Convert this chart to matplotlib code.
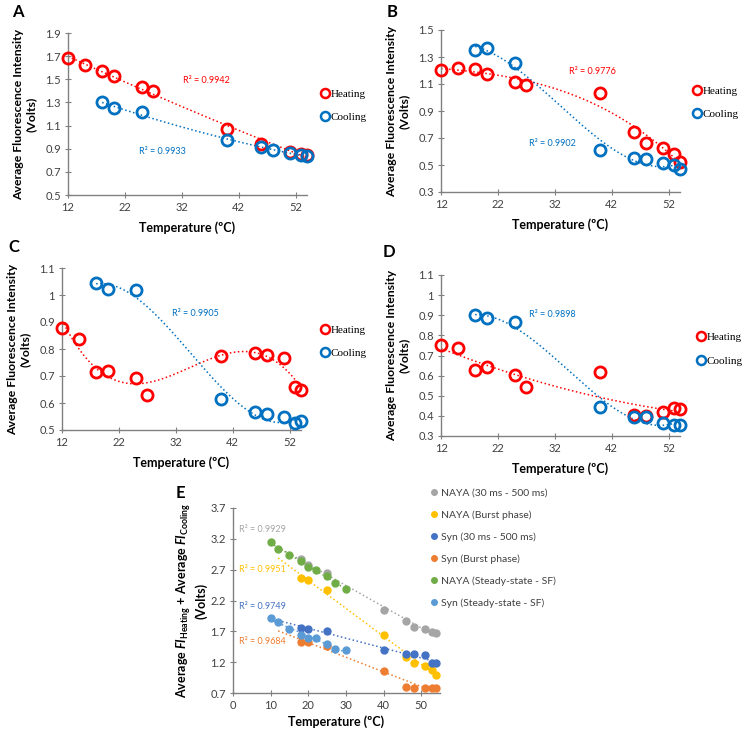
import numpy as np
import matplotlib
matplotlib.use('Agg')
import matplotlib.pyplot as plt
from matplotlib.lines import Line2D
from matplotlib.ticker import FuncFormatter

plt.rcParams['font.family'] = ['Lato', 'DejaVu Sans']
plt.rcParams['mathtext.fontset'] = 'custom'
plt.rcParams['mathtext.it'] = 'Lato:style=italic:weight=bold'
plt.rcParams['mathtext.rm'] = 'Lato:weight=bold'

# ---- data (panels A-D) ----
temp_heat = [12, 15, 18, 20, 25, 27, 40, 46, 48, 51, 53, 54]
temp_heat_a = [12, 15, 18, 20, 25, 27, 40, 46, 51, 53, 54]
temp_cool = [18, 20, 25, 40, 46, 48, 51, 53, 54]

a_heat = [1.68, 1.62, 1.575, 1.525, 1.43, 1.40, 1.07, 0.945, 0.875, 0.855, 0.848]
a_cool = [1.30, 1.25, 1.213, 0.975, 0.912, 0.887, 0.862, 0.843, 0.835]
b_heat = [1.203, 1.22, 1.208, 1.176, 1.118, 1.094, 1.03, 0.745, 0.66, 0.625, 0.58, 0.525]
b_cool = [1.35, 1.366, 1.255, 0.609, 0.553, 0.545, 0.518, 0.497, 0.472]
c_heat = [0.879, 0.837, 0.715, 0.72, 0.692, 0.63, 0.774, 0.785, 0.779, 0.768, 0.66, 0.65]
c_cool = [1.043, 1.023, 1.02, 0.615, 0.566, 0.56, 0.548, 0.527, 0.535]
d_heat = [0.75, 0.737, 0.628, 0.643, 0.605, 0.545, 0.62, 0.406, 0.398, 0.42, 0.44, 0.434]
d_cool = [0.9, 0.887, 0.867, 0.443, 0.395, 0.392, 0.365, 0.357, 0.357]

# ---- data (panel E) ----
e_temp_a = [18, 20, 25, 40, 46, 48, 51, 53, 54]
e_temp_ss = [10, 12, 15, 18, 20, 22, 25, 27, 30]
naya_30_500 = [2.87, 2.78, 2.65, 2.05, 1.86, 1.77, 1.73, 1.69, 1.67]
naya_burst = [2.56, 2.54, 2.37, 1.64, 1.29, 1.19, 1.14, 1.08, 0.99]
syn_30_500 = [1.76, 1.74, 1.71, 1.39, 1.34, 1.33, 1.31, 1.18, 1.18]
syn_burst = [1.53, 1.53, 1.46, 1.06, 0.80, 0.78, 0.78, 0.78, 0.78]
naya_ss = [3.15, 3.04, 2.94, 2.84, 2.74, 2.70, 2.59, 2.49, 2.38]
syn_ss = [1.92, 1.85, 1.74, 1.64, 1.59, 1.59, 1.49, 1.42, 1.39]
e_labels = ['NAYA (30 ms - 500 ms)', 'NAYA (Burst phase)', 'Syn (30 ms - 500 ms)',
            'Syn (Burst phase)', 'NAYA (Steady-state - SF)', 'Syn (Steady-state - SF)']
e_colors = ['#A5A5A5', '#FFC000', '#4472C4', '#ED7D31', '#70AD47', '#5B9BD5']
e_r2 = ['R² = 0.9929', 'R² = 0.9951', 'R² = 0.9749', 'R² = 0.9684']

RED = '#FF0000'
BLUE = '#0070C0'
AXC = '#808080'
fmt = FuncFormatter(lambda v, p: f'{v:g}')

fig = plt.figure(figsize=(7.43, 7.30), dpi=100)
W, H = 743.0, 730.0


def style_axes(ax):
    for s in ['top', 'right']:
        ax.spines[s].set_visible(False)
    for s in ['left', 'bottom']:
        ax.spines[s].set_color(AXC)
        ax.spines[s].set_linewidth(1.0)
    ax.tick_params(direction='inout', length=4, width=0.8, color=AXC,
                   labelsize=8, labelcolor='#404040', pad=3)
    ax.yaxis.set_major_formatter(fmt)
    ax.xaxis.set_major_formatter(fmt)


def trend(ax, x, y, deg, color, x0=None, x1=None):
    c = np.polyfit(x, y, deg)
    xs = np.linspace(min(x) if x0 is None else x0, max(x) if x1 is None else x1, 200)
    ax.plot(xs, np.polyval(c, xs), ls=':', lw=1.1, color=color, zorder=2)


def panel(px, letter, lxy, leg, th, yh, tc, yc, ylim, ystep, dh, dc, r2h, r2c):
    left, top, right, bottom = px
    ax = fig.add_axes([left / W, 1 - bottom / H, (right - left) / W, (bottom - top) / H])
    trend(ax, th, yh, dh, RED)
    trend(ax, tc, yc, dc, BLUE)
    ax.plot(th, yh, 'o', mfc='none', mec=RED, mew=2, ms=8, zorder=3, clip_on=False)
    ax.plot(tc, yc, 'o', mfc='none', mec=BLUE, mew=2, ms=8, zorder=3, clip_on=False)
    ax.set_xlim(12, 54)
    ax.set_ylim(*ylim)
    ax.set_xticks([12, 22, 32, 42, 52])
    ax.set_yticks(np.round(np.arange(ylim[0], ylim[1] + 1e-9, ystep), 2))
    style_axes(ax)
    ax.set_xlabel('Temperature (ºC)', fontsize=9, fontweight='bold', labelpad=6)
    ax.set_ylabel('Average Fluorescence Intensity\n(Volts)', fontsize=8.8,
                  fontweight='bold', labelpad=6)
    if r2h is not None:
        ax.text(r2h[0], r2h[1], r2h[2], color=RED, fontsize=6.5, va='center')
    if r2c is not None:
        ax.text(r2c[0], r2c[1], r2c[2], color=BLUE, fontsize=6.5, va='center')
    hs = [Line2D([], [], ls='none', marker='o', mfc='none', mec=RED, mew=1.8, ms=6.5),
          Line2D([], [], ls='none', marker='o', mfc='none', mec=BLUE, mew=1.8, ms=6.5)]
    ax.legend(hs, ['Heating', 'Cooling'], loc='center left',
              bbox_to_anchor=leg, frameon=False, handlelength=0.8,
              handletextpad=0.1, labelspacing=1.25, borderaxespad=0, borderpad=0,
              prop={'family': 'Liberation Serif', 'size': 8})
    fig.text(lxy[0] / W, 1 - lxy[1] / H, letter, fontsize=12, fontweight='bold',
             va='center', ha='left')
    return ax


panel((68, 33, 307, 195), 'A', (12, 12), (1.057, 0.552), temp_heat_a, a_heat,
      temp_cool, a_cool, (0.5, 1.9), 0.2, 2, 2,
      (32.2, 1.49, 'R² = 0.9942'), (24.5, 0.88, 'R² = 0.9933'))
panel((441, 30, 680, 192), 'B', (387, 12), (1.053, 0.552), temp_heat, b_heat,
      temp_cool, b_cool, (0.3, 1.5), 0.2, 3, 3,
      (34.5, 1.19, 'R² = 0.9776'), (27.5, 0.66, 'R² = 0.9902'))
panel((62, 268, 301, 430), 'C', (8, 247), (1.082, 0.546), temp_heat, c_heat,
      temp_cool, c_cool, (0.5, 1.1), 0.1, 3, 3,
      None, (31.3, 0.933, 'R² = 0.9905'))
panel((441, 275, 680, 436), 'D', (383, 252), (1.068, 0.54), temp_heat, d_heat,
      temp_cool, d_cool, (0.3, 1.1), 0.1, 2, 3,
      None, (27.5, 0.906, 'R² = 0.9898'))

# ---- panel E ----
axe = fig.add_axes([233 / W, 1 - 693 / H, 207 / W, 185 / H])
series = [(e_temp_a, naya_30_500), (e_temp_a, naya_burst), (e_temp_a, syn_30_500),
          (e_temp_a, syn_burst), (e_temp_ss, naya_ss), (e_temp_ss, syn_ss)]
for i, (x, y) in enumerate(series):
    if i < 4:
        trend(axe, x, y, 1, e_colors[i], x0=12)
    else:
        trend(axe, x, y, 1, e_colors[i])
for i, (x, y) in enumerate(series):
    axe.plot(x, y, 'o', color=e_colors[i], ms=5, zorder=3, clip_on=False)
for i, yv in enumerate([3.35, 2.71, 2.11, 1.54]):
    axe.text(1.5, yv, e_r2[i], color=e_colors[i], fontsize=6.5, va='center')
axe.set_xlim(0, 55)
axe.set_ylim(0.7, 3.7)
axe.set_xticks([0, 10, 20, 30, 40, 50])
axe.set_yticks([0.7, 1.2, 1.7, 2.2, 2.7, 3.2, 3.7])
style_axes(axe)
axe.set_xlabel('Temperature (ºC)', fontsize=9, fontweight='bold', labelpad=3)
axe.set_ylabel(r'Average $FI_{\mathrm{Heating}}$ + Average $FI_{\mathrm{Cooling}}$' + '\n(Volts)',
               fontsize=9, fontweight='bold', labelpad=2)
fig.text(176 / W, 1 - 493 / H, 'E', fontsize=12, fontweight='bold', va='center')
leg_handles = [Line2D([], [], ls='none', marker='o', color=c, ms=4) for c in e_colors]
fig.legend(leg_handles, e_labels, loc='upper left', bbox_to_anchor=(420 / W, 1 - 479 / H),
           frameon=False, fontsize=7.5, handlelength=0.8, handletextpad=0.3,
           labelspacing=1.2, labelcolor='#404040')

fig.savefig('out.png', dpi=100, facecolor='white')
